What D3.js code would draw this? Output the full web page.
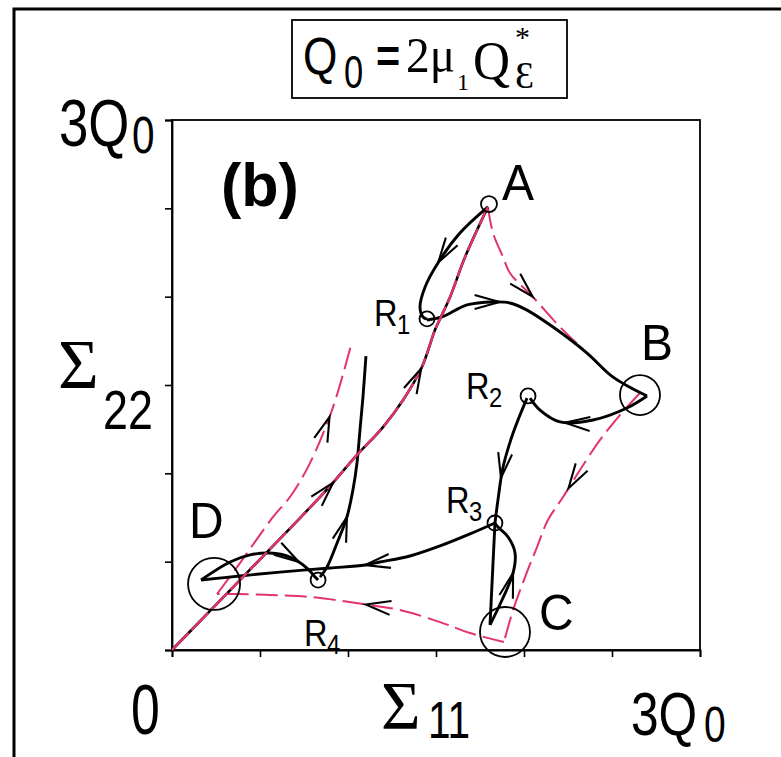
<!DOCTYPE html>
<html>
<head>
<meta charset="utf-8">
<script src="https://cdn.jsdelivr.net/npm/d3@7"></script>
<style>
  body { margin: 0; background: #fff; }
  svg text { fill: #000; }
</style>
</head>
<body>
<svg id="chart" width="781" height="757"></svg>
<script>
// ---- Data (stresses in units of Q0) ----
const tickValues = [0, 0.5, 1, 1.5, 2, 2.5, 3];
const originLabel = "0";
const maxLabel = ["3Q", "0"];

// proportional loading path, origin -> A
const loadOA = [[0,0],[0.727,0.747],[0.898,0.928],[1.051,1.104],[1.199,1.262],[1.313,1.415],
  [1.420,1.602],[1.494,1.811],[1.528,1.885],[1.580,1.998],[1.665,2.224],[1.795,2.508]];

// stress paths (black)
const pathAR1 = [[1.795,2.508],[1.636,2.360],[1.511,2.191],[1.438,2.055],[1.409,1.941],[1.426,1.885],[1.449,1.873]];
const pathR1B = [[1.449,1.868],[1.534,1.885],[1.676,1.953],[1.824,1.970],[1.920,1.964],[2.017,1.924],
  [2.165,1.828],[2.358,1.681],[2.506,1.545],[2.699,1.438]];
const pathBR2 = [[2.699,1.438],[2.585,1.370],[2.392,1.302],[2.205,1.291],[2.091,1.358],[2.034,1.426]];
const pathR2R3 = [[2.017,1.426],[1.938,1.228],[1.881,1.036],[1.852,0.849],[1.835,0.719]];
const pathR3C = [[1.835,0.719],[1.807,0.142]];
const pathCR3 = [[1.807,0.142],[1.875,0.283],[1.938,0.436],[1.949,0.549],[1.909,0.640],[1.852,0.696],[1.835,0.719]];
const pathR3D = [[1.835,0.719],[1.693,0.657],[1.523,0.589],[1.352,0.532],[1.182,0.498],[1.097,0.481],
  [0.898,0.464],[0.614,0.441],[0.386,0.419],[0.165,0.396]];
const pathDR4 = [[0.165,0.396],[0.330,0.498],[0.443,0.538],[0.557,0.549],[0.670,0.526],[0.767,0.464],[0.813,0.413],[0.830,0.396]];
const pathR4up = [[0.841,0.413],[0.881,0.470],[0.938,0.606],[0.994,0.753],[1.028,0.906],[1.051,1.058],
  [1.068,1.245],[1.085,1.432],[1.102,1.664]];

// yield-surface corner trajectories (pink, dashed)
const yieldAB = [[1.795,2.508],[1.824,2.360],[1.881,2.224],[1.920,2.134],[2.051,1.998],[2.205,1.828],
  [2.358,1.681],[2.506,1.545],[2.659,1.455]];
const yieldBC = [[2.659,1.455],[2.545,1.330],[2.432,1.189],[2.318,1.019],[2.222,0.866],[2.136,0.736],
  [2.074,0.583],[2.006,0.413],[1.938,0.226],[1.886,0.045]];
const yieldCD = [[1.886,0.045],[1.693,0.096],[1.523,0.158],[1.295,0.226],[1.085,0.260],[0.784,0.300],
  [0.557,0.311],[0.369,0.317],[0.256,0.317]];
const yieldDup = [[0.256,0.317],[0.386,0.492],[0.574,0.753],[0.670,0.866],[0.784,1.058],[0.915,1.375],[1.017,1.726]];

// corner states and reversal points
const cornerNames = ["A", "B", "C", "D"];
const cornerX = [1.801, 2.659, 1.892, 0.239];
const cornerY = [2.524, 1.443, 0.102, 0.374];
const reversalNames = ["1", "2", "3", "4"];
const reversalX = [1.449, 2.023, 1.835, 0.830];
const reversalY = [1.874, 1.438, 0.719, 0.396];

// direction arrows: [path id, fraction of path length at arrow tip]
const arrowSpecs = [["oa",0.421],["oa",0.683],["ar1",0.54],["r1b",0.30],["yab",0.415],["br2",0.665],
  ["ybc",0.416],["r2r3",0.65],["cr3",0.50],["r3d",0.454],["ycd",0.49],["dr4",0.80],["r4up",0.29],["ydup",0.738]];

// ---- Layout ----
const svg = d3.select("#chart");
const PINK = "#e2336c";
const x = d3.scaleLinear().domain([0, 3]).range([172, 700]);
const y = d3.scaleLinear().domain([0, 3]).range([650, 120]);

// outer figure frame (left and top edges)
svg.append("path").attr("d", "M14,757 L14,9 L781,9")
  .attr("fill", "none").attr("stroke", "#000").attr("stroke-width", 3);

// plot box
svg.append("rect").attr("x", x(0)).attr("y", y(3)).attr("width", x(3) - x(0)).attr("height", y(0) - y(3))
  .attr("fill", "none").attr("stroke", "#000").attr("stroke-width", 1.8);

const ax = svg.append("g").attr("transform", `translate(0,${y(0)})`)
  .call(d3.axisBottom(x).tickValues(tickValues).tickSize(7).tickFormat(""));
const ay = svg.append("g").attr("transform", `translate(${x(0)},0)`)
  .call(d3.axisLeft(y).tickValues(tickValues).tickSize(7).tickFormat(""));
[ax, ay].forEach(g => {
  g.select(".domain").attr("stroke", "#000").attr("stroke-width", 1.8);
  g.selectAll(".tick line").attr("stroke", "#000").attr("stroke-width", 1.6);
});

const line = d3.line().x(d => x(d[0])).y(d => y(d[1])).curve(d3.curveCatmullRom.alpha(0.5));

const paths = {};
function draw(id, data, stroke, width, dash) {
  const p = svg.append("path").attr("d", line(data)).attr("fill", "none")
    .attr("stroke", stroke).attr("stroke-width", width)
    .attr("stroke-linejoin", "round").attr("stroke-linecap", "butt");
  if (dash) p.attr("stroke-dasharray", dash);
  if (id) paths[id] = p.node();
  return p;
}

// pink trajectories
draw("yab", yieldAB, PINK, 2, "22,7");
draw("ybc", yieldBC, PINK, 2, "22,7");
draw("ycd", yieldCD, PINK, 2, "22,7");
draw("ydup", yieldDup, PINK, 2, "22,7");

// black stress paths
const BW = 2.9;
draw("ar1", pathAR1, "#000", BW);
draw("r1b", pathR1B, "#000", BW);
draw("br2", pathBR2, "#000", BW);
draw("r2r3", pathR2R3, "#000", BW);
draw(null, pathR3C, "#000", BW);
draw("cr3", pathCR3, "#000", BW);
draw("r3d", pathR3D, "#000", BW);
draw("dr4", pathDR4, "#000", BW);
draw("r4up", pathR4up, "#000", BW);

// loading line: black underneath, pink dashes on top
draw("oa", loadOA, "#000", 2.6);
draw(null, loadOA, PINK, 2.4, "24,4");

// chevron arrows
arrowSpecs.forEach(([id, t]) => {
  const node = paths[id];
  const L = node.getTotalLength();
  const p = node.getPointAtLength(t * L);
  const q = node.getPointAtLength(Math.max(0, t * L - 4));
  const ang = Math.atan2(p.y - q.y, p.x - q.x) * 180 / Math.PI;
  svg.append("path").attr("d", "M-25,-7 L0,0 L-25,7")
    .attr("transform", `translate(${p.x},${p.y}) rotate(${ang})`)
    .attr("fill", "none").attr("stroke", "#000").attr("stroke-width", 2.1)
    .attr("stroke-linejoin", "miter");
});

// circles
const bigR = { A: 8, B: 20, C: 25, D: 26 };
cornerNames.forEach((n, i) => {
  svg.append("circle").attr("cx", x(cornerX[i])).attr("cy", y(cornerY[i])).attr("r", bigR[n])
    .attr("fill", "none").attr("stroke", "#000").attr("stroke-width", 1.8);
});
reversalNames.forEach((n, i) => {
  svg.append("circle").attr("cx", x(reversalX[i])).attr("cy", y(reversalY[i])).attr("r", 7.5)
    .attr("fill", "none").attr("stroke", "#000").attr("stroke-width", 1.8);
});

// ---- Text ----
const SANS = "'Liberation Sans', Arial, sans-serif";
const SERIF = "'Liberation Serif', 'Times New Roman', serif";

function txt(str, px, py, size, opts = {}) {
  const sx = opts.sx || 1;
  return svg.append("text").text(str)
    .attr("transform", `translate(${px},${py}) scale(${sx},1)`)
    .attr("font-family", opts.family || SANS)
    .attr("font-size", size)
    .attr("font-weight", opts.weight || "normal")
    .attr("text-anchor", opts.anchor || "start");
}

// corner labels
const cornerOff = { A: [13, -4], B: [1, -35], C: [34, -2], D: [-25, -46] };
cornerNames.forEach((n, i) => {
  const o = cornerOff[n];
  txt(n, x(cornerX[i]) + o[0], y(cornerY[i]) + o[1], 50, { sx: 0.96 });
});

// reversal labels R1..R4
const revOff = [[-53, 7], [-62, 3], [-49, -10], [-14, 66]];
reversalNames.forEach((n, i) => {
  const bx = x(reversalX[i]) + revOff[i][0], by = y(reversalY[i]) + revOff[i][1];
  txt("R", bx, by, 37, { sx: 0.88 });
  txt(n, bx + 23, by + 8, 28, { sx: 0.85 });
});

// panel tag
txt("(b)", 221, 206, 61, { weight: "bold" });

// axis end labels
txt(originLabel, x(0) - 41, 734, 70, { sx: 0.74 });
txt(maxLabel[0], 59, y(3) + 26, 66, { sx: 0.8 });
txt(maxLabel[1], 132, y(3) + 33, 52, { sx: 0.78 });
txt(maxLabel[0], 631, 735, 62, { sx: 0.8 });
txt(maxLabel[1], 704, 742, 50, { sx: 0.78 });

// axis titles
txt("\u03A3", 381, 728, 68, { family: SERIF });
txt("11", 428, 738, 52, { sx: 0.78 });
txt("\u03A3", 58, 388, 70, { family: SERIF });
txt("22", 103, 429, 56, { sx: 0.8 });

// definition box: Q0 = 2 mu_1 Q*_eps
svg.append("rect").attr("x", 292).attr("y", 20).attr("width", 275).attr("height", 78)
  .attr("fill", "none").attr("stroke", "#000").attr("stroke-width", 1.8);
txt("Q", 303, 74, 52, { sx: 0.85 });
txt("0", 344, 88, 46, { sx: 0.75 });
txt("=", 376, 72, 46, { sx: 0.9, weight: "bold" });
txt("2\u03BC", 406, 72, 50, { family: SERIF, sx: 0.95 });
txt("1", 457, 90, 24, { family: SERIF });
txt("Q", 473, 79, 54, { family: SERIF, sx: 0.95 });
txt("*", 515, 47, 30, { family: SERIF });
txt("\u0190", 515, 88, 38, { family: SERIF });
</script>
</body>
</html>
